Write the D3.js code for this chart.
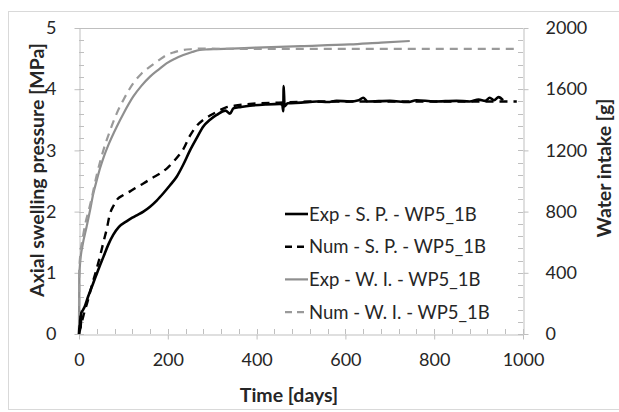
<!DOCTYPE html>
<html><head><meta charset="utf-8">
<script src="https://cdn.jsdelivr.net/npm/d3@7"></script>
<style>body{margin:0;background:#fff}svg{display:block}text{font-family:Lato,"Open Sans",sans-serif;fill:#262626}</style>
</head><body><svg id="c" width="619" height="412"></svg>
<script>
// ---- data ----
const xTicks = [0, 200, 400, 600, 800, 1000];
const yLeftTicks = [0, 1, 2, 3, 4, 5];
const yRightTicks = [0, 400, 800, 1200, 1600, 2000];
const seriesNames = ["Exp - S. P. - WP5_1B", "Num - S. P. - WP5_1B", "Exp - W. I. - WP5_1B", "Num - W. I. - WP5_1B"];
// Exp swelling pressure [days, MPa]
const expSP = [[0,0],[1,0.15],[2,0.05],[3,0.3],[4,0.1],[5,0.34],[8,0.38],[13,0.45],[20,0.6],[32,0.83],[45,1.08],[55,1.26],[66,1.46],[77,1.62],[90,1.75],[107,1.84],[120,1.9],[130,1.94],[145,2.0],[160,2.08],[175,2.18],[190,2.3],[205,2.43],[220,2.57],[235,2.77],[250,3.0],[265,3.2],[280,3.39],[295,3.5],[310,3.58],[330,3.65],[340,3.6],[348,3.69],[365,3.71],[385,3.73],[420,3.75],[453,3.76],[458,3.74],[460,3.64],[461,4.05],[463,3.72],[470,3.77],[500,3.78],[535,3.8],[560,3.79],[580,3.81],[610,3.8],[630,3.82],[640,3.86],[650,3.8],[700,3.81],[740,3.79],[760,3.82],[800,3.8],[850,3.81],[880,3.8],[900,3.83],[915,3.81],[925,3.86],[935,3.82],[945,3.87],[955,3.82]];
// Num swelling pressure [days, MPa]
const numSP = [[0,0],[10,0.3],[20,0.55],[28,0.77],[38,1.02],[47,1.26],[55,1.5],[62,1.7],[70,1.97],[78,2.1],[85,2.19],[100,2.27],[115,2.33],[130,2.4],[145,2.46],[165,2.55],[182,2.62],[200,2.72],[212,2.81],[225,2.92],[235,3.02],[250,3.24],[265,3.4],[280,3.5],[295,3.57],[310,3.63],[330,3.7],[350,3.73],[385,3.76],[450,3.78],[550,3.8],[700,3.8],[850,3.8],[986,3.8]];
// Exp water intake [days, g]
const expWI = [[0,0],[0.5,370],[3,480],[8,580],[17,700],[25,810],[32,915],[40,1005],[47,1080],[56,1160],[66,1235],[85,1355],[100,1440],[122,1551],[140,1620],[160,1682],[180,1730],[197,1769],[215,1798],[235,1823],[255,1843],[272,1856],[290,1860],[310,1862],[400,1872],[500,1882],[610,1893],[680,1905],[745,1915]];
// Num water intake [days, g]
const numWI = [[0,0],[0.5,400],[3,520],[8,620],[15,730],[22,810],[28,880],[40,1040],[55,1202],[70,1330],[85,1442],[100,1530],[122,1638],[140,1700],[160,1747],[180,1790],[197,1823],[215,1842],[235,1856],[255,1862],[272,1865],[350,1864],[500,1863],[700,1863],[850,1863],[990,1863]];

// ---- chart ----
const svg = d3.select("#c");
const L = 79, R = 523, T = 28, B = 334;
const x = d3.scaleLinear().domain([0, 1000]).range([L, R]);
const yL = d3.scaleLinear().domain([0, 5]).range([B, T]);
const yR = d3.scaleLinear().domain([0, 2000]).range([B, T]);
const axisCol = "#bfbfbf";

// chart area border
svg.append("rect").attr("x", 8.5).attr("y", 11.5).attr("width", 640).attr("height", 398)
  .attr("fill", "none").attr("stroke", "#d9d9d9");
// top frame line
svg.append("line").attr("x1", L).attr("x2", R).attr("y1", T + 0.5).attr("y2", T + 0.5).attr("stroke", axisCol);

function styleAxis(g) {
  g.select(".domain").attr("stroke", axisCol);
  g.selectAll(".tick line").attr("stroke", axisCol);
  g.selectAll("text").style("font-size", "18px").attr("fill", "#262626").style("font-family", "Lato, sans-serif");
}
// minor ticks
const minorX = d3.range(0, 1001, 40);
svg.append("g").selectAll("line").data(minorX).join("line")
  .attr("x1", d => Math.round(x(d)) + 0.5).attr("x2", d => Math.round(x(d)) + 0.5)
  .attr("y1", B).attr("y2", B - 5).attr("stroke", axisCol);
const minorY = d3.range(0, 5.01, 0.2);
svg.append("g").selectAll("line").data(minorY).join("line")
  .attr("y1", d => Math.round(yL(d)) + 0.5).attr("y2", d => Math.round(yL(d)) + 0.5)
  .attr("x1", L).attr("x2", L + 5).attr("stroke", axisCol);
const minorYR = d3.range(0, 2001, 80);
svg.append("g").selectAll("line").data(minorYR).join("line")
  .attr("y1", d => Math.round(yR(d)) + 0.5).attr("y2", d => Math.round(yR(d)) + 0.5)
  .attr("x1", R - 5).attr("x2", R).attr("stroke", axisCol);

const fmt = d3.format("d");
const gx = svg.append("g").attr("transform", `translate(0,${B + 0.5})`)
  .call(d3.axisBottom(x).tickValues(xTicks).tickFormat(fmt).tickSizeInner(5).tickSizeOuter(0).tickPadding(14));
styleAxis(gx);
const gl = svg.append("g").attr("transform", `translate(${L + 0.5},0)`)
  .call(d3.axisLeft(yL).tickValues(yLeftTicks).tickFormat(fmt).tickSizeInner(5).tickSizeOuter(0).tickPadding(18));
styleAxis(gl);
const gr = svg.append("g").attr("transform", `translate(${R + 0.5},0)`)
  .call(d3.axisRight(yR).tickValues(yRightTicks).tickFormat(fmt).tickSizeInner(5).tickSizeOuter(0).tickPadding(17));
styleAxis(gr);

// titles
svg.append("text").attr("x", 289).attr("y", 402).attr("text-anchor", "middle")
  .style("font-size", "19.5px").style("font-weight", "bold").text("Time [days]");
svg.append("text").attr("transform", "translate(44,170) rotate(-90)").attr("text-anchor", "middle")
  .style("font-size", "19.5px").style("font-weight", "bold").text("Axial swelling pressure [MPa]");
svg.append("text").attr("transform", "translate(611,168) rotate(-90)").attr("text-anchor", "middle")
  .style("font-size", "19.5px").style("font-weight", "bold").text("Water intake [g]");

// lines
const lineL = d3.line().x(d => x(d[0])).y(d => yL(d[1])).curve(d3.curveMonotoneX);
const lineR = d3.line().x(d => x(d[0])).y(d => yR(d[1])).curve(d3.curveMonotoneX);
const styles = [
  {data: expSP, gen: lineL, color: "#000", w: 2.6, dash: null},
  {data: numSP, gen: lineL, color: "#000", w: 2.4, dash: "8,6"},
  {data: expWI, gen: lineR, color: "#8f8f8f", w: 2.2, dash: null},
  {data: numWI, gen: lineR, color: "#9a9a9a", w: 2.2, dash: "8,6"}
];
[2, 3, 1, 0].forEach(i => {
  const s = styles[i];
  svg.append("path").attr("d", s.gen(s.data)).attr("fill", "none")
    .attr("stroke", s.color).attr("stroke-width", s.w)
    .attr("stroke-dasharray", s.dash).attr("stroke-linejoin", "round");
});

// legend
const leg = svg.append("g");
seriesNames.forEach((name, i) => {
  const s = styles[i];
  const yy = 214 + i * 32.7;
  leg.append("line").attr("x1", 285).attr("x2", 308).attr("y1", yy).attr("y2", yy)
    .attr("stroke", s.color).attr("stroke-width", s.w).attr("stroke-dasharray", s.dash ? "7,5" : null);
  leg.append("text").attr("x", 309).attr("y", yy + 6.5).style("font-size", "18.5px").text(name);
});
</script></body></html>
